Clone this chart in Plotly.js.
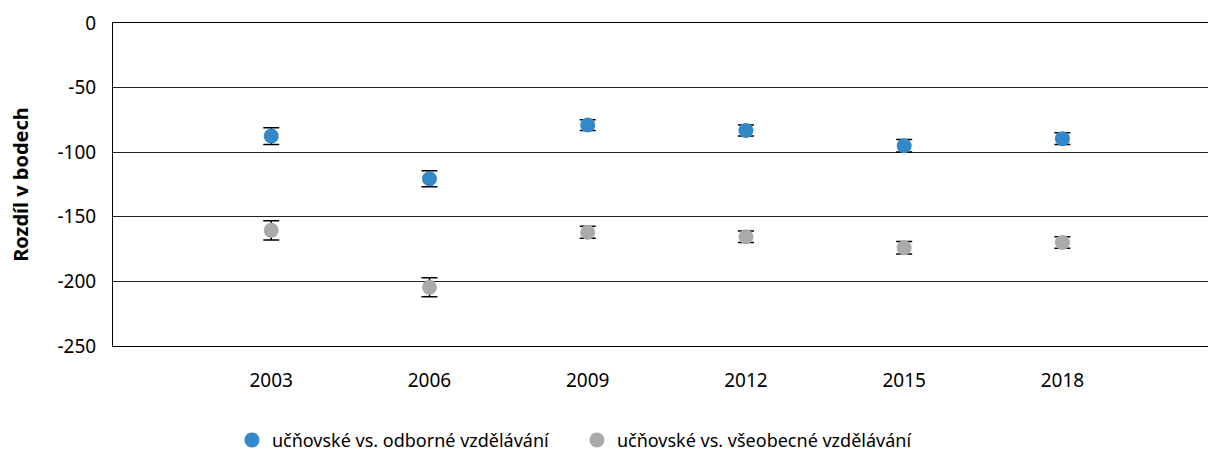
<!DOCTYPE html>
<html>
<head>
<meta charset="utf-8">
<script src="https://cdn.plot.ly/plotly-3.0.1.min.js"></script>
<style>html,body{margin:0;padding:0;background:#fff;}#chart{width:1208px;height:459px;}</style>
</head>
<body>
<div id="chart"></div>
<script>
const years = ['2003', '2006', '2009', '2012', '2015', '2018'];
const seriesNames = ['učňovské vs. odborné vzdělávání', 'učňovské vs. všeobecné vzdělávání'];
const odborne = [-87.5, -120.5, -79, -83.2, -95, -89.5];
const odborneErr = [6.5, 6.2, 4.2, 4.3, 4.9, 4.6];
const vseobecne = [-160.5, -204.5, -162, -165.4, -174, -169.9];
const vseobecneErr = [7.5, 7.4, 4.6, 4.4, 4.8, 4.5];
const yTicks = [0, -50, -100, -150, -200, -250];

const FONT = 'Noto Sans, Open Sans, sans-serif';

function trace(name, y, err, color) {
  return {
    type: 'scatter', mode: 'markers', name: name,
    x: years, y: y,
    marker: {color: color, size: 15},
    error_y: {type: 'data', array: err, visible: true, color: '#000', thickness: 1.5, width: 8},
    hoverinfo: 'skip'
  };
}

const data = [
  trace(seriesNames[0], odborne, odborneErr, '#3388CA'),
  trace(seriesNames[1], vseobecne, vseobecneErr, '#AAAAAA')
];

const layout = {
  width: 1208, height: 459,
  margin: {l: 113, r: 0, t: 23, b: 113, pad: 0},
  paper_bgcolor: '#fff', plot_bgcolor: '#fff',
  font: {family: FONT, size: 19, color: '#000'},
  showlegend: true,
  legend: {orientation: 'h', xref: 'container', yref: 'container', x: 0.192, y: 0.041,
           xanchor: 'left', yanchor: 'middle', font: {size: 18, family: FONT}, itemwidth: 30,
           entrywidth: 300, entrywidthmode: 'pixels', traceorder: 'normal'},
  xaxis: {type: 'category', range: [-1, 5.92], showgrid: false, zeroline: false,
          showline: true, mirror: true, linecolor: '#000', linewidth: 1,
          ticks: '', tickfont: {size: 19}, ticklabelstandoff: 17, fixedrange: true},
  yaxis: {range: [-250, 0], tickvals: yTicks, ticktext: yTicks.map(String),
          showgrid: true, gridcolor: '#222', gridwidth: 1, zeroline: false,
          showline: true, linecolor: '#000', linewidth: 1, ticks: '',
          tickfont: {size: 19}, ticklabelstandoff: 12,
          title: {text: '<b>Rozdíl v bodech</b>', font: {size: 20}, standoff: 23}}
};

Plotly.newPlot('chart', data, layout, {staticPlot: true, displayModeBar: false});
</script>
</body>
</html>
